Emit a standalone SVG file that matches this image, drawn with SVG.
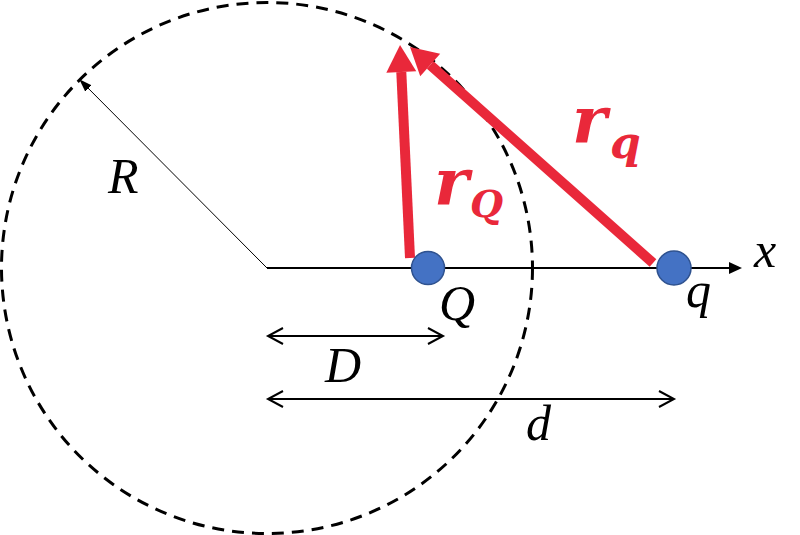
<svg xmlns="http://www.w3.org/2000/svg" width="800" height="535" viewBox="0 0 800 535">
<style>
.lbl{font-family:"Liberation Serif","DejaVu Serif",serif;font-style:italic;fill:#000;font-size:50px}
.rl{font-family:"DejaVu Serif","Liberation Serif",serif;font-style:italic;font-weight:bold;fill:#E9283A}
.chg{fill:#4472C4;stroke:#2F528F;stroke-width:1.5}
.red{stroke:#E9283A;stroke-width:10;fill:none}
.blk{stroke:#000;stroke-width:2;fill:none}
</style>
<defs>
<marker id="redHead" markerUnits="userSpaceOnUse" viewBox="0 0 27 30" refX="0" refY="15" markerWidth="27" markerHeight="30" orient="auto" overflow="visible">
<path d="M0,0 L27,15 L0,30 z" fill="#E9283A"/>
</marker>
<marker id="axHead" markerUnits="userSpaceOnUse" viewBox="0 0 13 12" refX="1" refY="6" markerWidth="13" markerHeight="12" orient="auto">
<path d="M0,0 L13,6 L0,12 z" fill="#000"/>
</marker>
<marker id="smallHead" markerUnits="userSpaceOnUse" viewBox="0 0 13 9" refX="12" refY="4.5" markerWidth="13" markerHeight="9" orient="auto">
<path d="M0,0 L13,4.5 L0,9 z" fill="#000"/>
</marker>
<marker id="openHead" markerUnits="userSpaceOnUse" viewBox="-17 -10 19 20" refX="0" refY="0" markerWidth="19" markerHeight="20" orient="auto-start-reverse" overflow="visible">
<path d="M-15,-8 L0,0 L-15,8" fill="none" stroke="#000" stroke-width="2"/>
</marker>
</defs>
<rect width="800" height="535" fill="#fff"/>
<g id="sphere">
<circle cx="267" cy="268" r="265.5" fill="none" stroke="#000" stroke-width="3" stroke-dasharray="12 8"/>
</g>
<g id="connectors">
<line id="axis" x1="267" y1="268" x2="730" y2="268" class="blk" marker-end="url(#axHead)"/>
<line id="radius" x1="267" y1="268" x2="80" y2="80" stroke="#000" stroke-width="1" marker-end="url(#smallHead)"/>
<line id="dimD" x1="268" y1="336" x2="443" y2="336" class="blk" marker-start="url(#openHead)" marker-end="url(#openHead)"/>
<line id="dimd" x1="268" y1="399" x2="674" y2="399" class="blk" marker-start="url(#openHead)" marker-end="url(#openHead)"/>
<line id="rQ" x1="410" y1="258" x2="401.3" y2="72" class="red" marker-end="url(#redHead)"/>
<line id="rq" x1="653" y1="263" x2="430.2" y2="65" class="red" marker-end="url(#redHead)"/>
</g>
<g id="chargeQ">
<circle cx="428" cy="268" r="16.5" class="chg"/>
<text class="lbl" x="439" y="320">Q</text>
</g>
<g id="chargeq">
<circle cx="674" cy="268" r="17" class="chg"/>
<text class="lbl" x="686" y="307">q</text>
</g>
<g id="labels">
<text class="lbl" x="108" y="193">R</text>
<text class="lbl" x="754" y="267">x</text>
<text class="lbl" x="325" y="382">D</text>
<text class="lbl" x="526" y="440">d</text>
<text class="rl" x="434" y="205" font-size="66">r</text>
<text class="rl" x="470" y="217" font-size="38">Q</text>
<text class="rl" x="572" y="143" font-size="66">r</text>
<text class="rl" x="610" y="158" font-size="44">q</text>
</g>
</svg>
